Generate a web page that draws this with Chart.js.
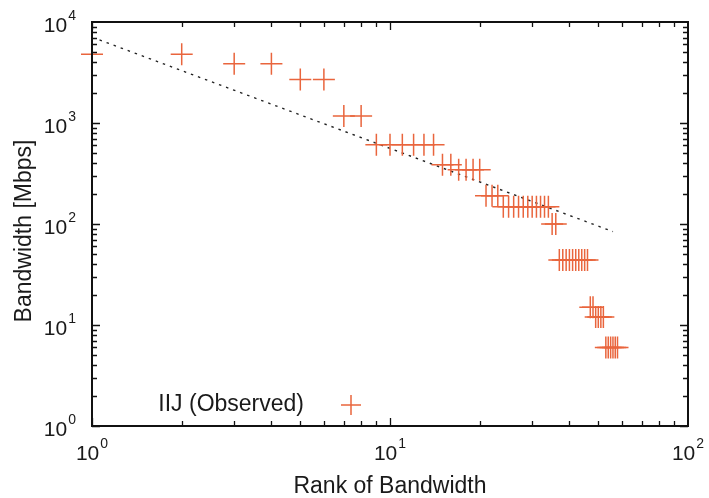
<!DOCTYPE html>
<html>
<head>
<meta charset="utf-8">
<script src="https://cdn.jsdelivr.net/npm/chart.js@4.4.1/dist/chart.umd.min.js"></script>
<style>
  html, body { margin: 0; padding: 0; background: #fff; }
  #wrap { width: 709px; height: 498px; }
</style>
</head>
<body>
<div id="wrap"><canvas id="rankChart"></canvas></div>
<script>
// observed bandwidth, ranked
const ranks = [
  1, 2, 3, 4, 5, 6, 7, 8, 9, 10, 11, 12, 13, 14, 15, 16, 17, 18, 19, 20,
  21, 22, 23, 24, 25, 26, 27, 28, 29, 30, 31, 32, 33, 34, 35, 36, 37, 38, 39, 40,
  41, 42, 43, 44, 45, 46, 47, 48, 49, 50, 51, 52, 53, 54, 55, 56, 57, 58,
];
const bandwidth = [
  4800, 4800, 3850, 3850, 2700, 2700, 1170, 1170, 610, 610, 610, 610, 610, 610, 385, 385, 345, 345, 345, 345,
  190, 190, 190, 148, 148, 148, 148, 148, 148, 148, 148, 148, 148, 148, 100, 100, 44, 44, 44, 44,
  44, 44, 44, 44, 44, 44, 15, 15, 12, 12, 12, 12, 6, 6, 6, 6, 6, 6,
];

// power-law fit (dashed)
const fitRanks = [1.06, 56];
const fitBandwidth = [6640, 84];

const xDecades = [1, 10, 100];
const yDecades = [1, 10, 100, 1000, 10000];
const legendLabel = "IIJ (Observed)";
const xTitle = "Rank of Bandwidth";
const yTitle = "Bandwidth [Mbps]";

const crossColor = "#e9653d";
const textColor = "#1a1a1a";
const fontFamily = "'Liberation Sans', Arial, Helvetica, sans-serif";

function drawPow(ctx, x, y, exp, align) {
  // "10" with a raised exponent, x is the anchor, y is the middle of "10"
  ctx.font = "21px " + fontFamily;
  const wBase = ctx.measureText("10").width;
  ctx.font = "14px " + fontFamily;
  const wExp = ctx.measureText(String(exp)).width + 1;
  let left = align === "center" ? x - (wBase + wExp) / 2 : x - (wBase + wExp);
  ctx.textAlign = "left";
  ctx.textBaseline = "middle";
  ctx.font = "21px " + fontFamily;
  ctx.fillText("10", left, y);
  ctx.font = "14px " + fontFamily;
  ctx.fillText(String(exp), left + wBase + 1, y - 10);
}

const frameAndLabels = {
  id: "frameAndLabels",
  afterDatasetsDraw(chart) {
    const { ctx, chartArea: a, scales: { x, y } } = chart;
    ctx.save();
    ctx.strokeStyle = "#111";
    ctx.fillStyle = textColor;

    // tick marks, inward on all four sides
    ctx.lineWidth = 1.3;
    ctx.beginPath();
    for (let d = 1; d < 100; d *= 10) {
      for (let m = 1; m <= 9; m++) {
        const px = Math.round(x.getPixelForValue(d * m)) + 0.5;
        const len = m === 1 ? 8 : 5;
        ctx.moveTo(px, a.bottom); ctx.lineTo(px, a.bottom - len);
        ctx.moveTo(px, a.top); ctx.lineTo(px, a.top + len);
      }
    }
    for (let d = 1; d < 10000; d *= 10) {
      for (let m = 1; m <= 9; m++) {
        const py = Math.round(y.getPixelForValue(d * m)) + 0.5;
        const len = m === 1 ? 8 : 5;
        ctx.moveTo(a.left, py); ctx.lineTo(a.left + len, py);
        ctx.moveTo(a.right, py); ctx.lineTo(a.right - len, py);
      }
    }
    ctx.stroke();

    // frame
    ctx.lineWidth = 2;
    ctx.strokeRect(a.left, a.top, a.right - a.left, a.bottom - a.top);

    // tick labels
    xDecades.forEach((v, i) => drawPow(ctx, x.getPixelForValue(v), a.bottom + 28, i, "center"));
    yDecades.forEach((v, i) => drawPow(ctx, a.left - 16, y.getPixelForValue(v) + 4, i, "right"));

    // axis titles
    ctx.font = "23px " + fontFamily;
    ctx.textAlign = "center";
    ctx.textBaseline = "middle";
    ctx.fillText(xTitle, (a.left + a.right) / 2, 487);
    ctx.save();
    ctx.translate(25, 231);
    ctx.rotate(-Math.PI / 2);
    ctx.fillText(yTitle, 0, 0);
    ctx.restore();

    // legend
    ctx.textAlign = "right";
    ctx.fillText(legendLabel, 304, 405);
    ctx.strokeStyle = crossColor;
    ctx.lineWidth = 1.5;
    ctx.beginPath();
    ctx.moveTo(341, 405); ctx.lineTo(361, 405);
    ctx.moveTo(351, 395); ctx.lineTo(351, 415);
    ctx.stroke();
    ctx.restore();
  },
};

const ctx = document.getElementById("rankChart").getContext("2d");

new Chart(ctx, {
  type: "scatter",
  data: {
    datasets: [
      {
        label: legendLabel,
        data: ranks.map((r, i) => ({ x: r, y: bandwidth[i] })),
        pointStyle: "cross",
        pointRadius: 11,
        pointBorderWidth: 1.5,
        borderColor: crossColor,
        backgroundColor: crossColor,
        clip: false,
      },
      {
        type: "line",
        label: "fit",
        data: fitRanks.map((r, i) => ({ x: r, y: fitBandwidth[i] })),
        borderColor: "#222",
        borderWidth: 1.4,
        borderDash: [2.5, 5],
        pointRadius: 0,
        fill: false,
      },
    ],
  },
  options: {
    responsive: true,
    maintainAspectRatio: false,
    animation: false,
    layout: { padding: { left: 92, right: 21, top: 22, bottom: 72 } },
    scales: {
      x: { type: "logarithmic", min: 1, max: 100, display: false },
      y: { type: "logarithmic", min: 1, max: 10000, display: false },
    },
    plugins: {
      legend: { display: false },
      tooltip: { enabled: false },
    },
  },
  plugins: [frameAndLabels],
});
</script>
</body>
</html>
